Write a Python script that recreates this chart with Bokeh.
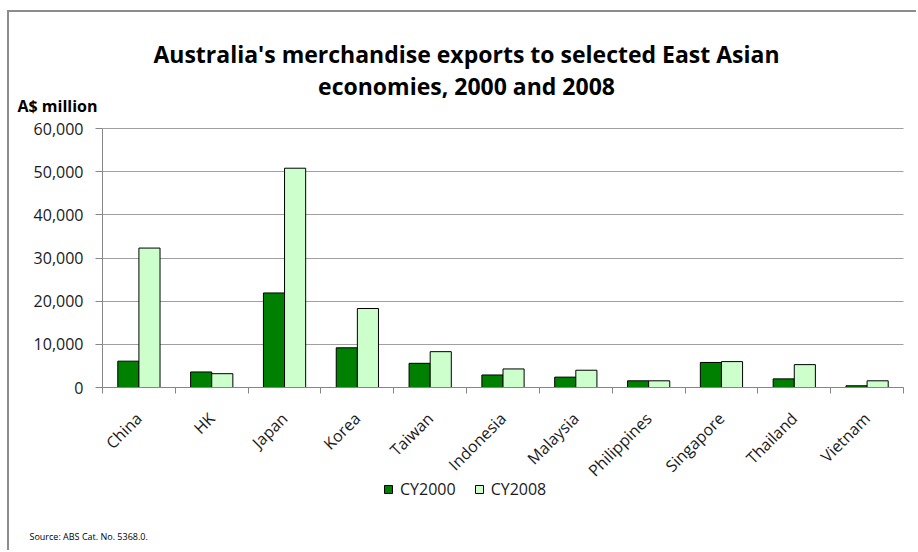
import math
from bokeh.plotting import figure
from bokeh.models import (Range1d, FixedTicker, NumeralTickFormatter, Legend, LegendItem,
                          Label, ColumnDataSource)
from bokeh.transform import dodge
from bokeh.embed import file_html
from bokeh.resources import INLINE

# ---- data ----
economies = ["China", "HK", "Japan", "Korea", "Taiwan", "Indonesia", "Malaysia",
             "Philippines", "Singapore", "Thailand", "Vietnam"]
cy2000 = [6100, 3600, 21900, 9200, 5600, 2900, 2400, 1550, 5800, 2000, 400]
cy2008 = [32300, 3200, 50800, 18300, 8300, 4300, 4000, 1550, 6000, 5300, 1550]
series_names = ["CY2000", "CY2008"]
y_ticks = [0, 10000, 20000, 30000, 40000, 50000, 60000]
title_lines = ["Australia's merchandise exports to selected East Asian",
               "economies, 2000 and 2008"]
y_unit = "A$ million"
source_note = "Source: ABS Cat. No. 5368.0."

FONT = "Open Sans"
DARK = "#008000"
LIGHT = "#ccffcc"
AXIS_GRAY = "#868686"
GRID_GRAY = "#a0a0a0"
TEXT = "#1a1a1a"

W, H = 909, 540
# page = canvas + (9, 12) because of the css margin + border
OX, OY = 9, 12
# where the value area sits on the page
AREA_L, AREA_R, AREA_T, AREA_B = 102, 903, 128, 387

n = len(economies)
centers = [i + 0.5 for i in range(n)]
bounds = list(range(n + 1))

x_per_px = n / (AREA_R - AREA_L)
y_per_px = y_ticks[-1] / (AREA_B - AREA_T)


def px_x(x):
    return (x - AREA_L) * x_per_px


def px_y(y):
    return (AREA_B - y) * y_per_px


src = ColumnDataSource(dict(economy=economies, pos=centers, cy2000=cy2000, cy2008=cy2008))

p = figure(width=W, height=H, output_backend="svg", toolbar_location=None,
           x_range=Range1d(px_x(OX), px_x(OX + W)),
           y_range=Range1d(px_y(OY + H), px_y(OY)),
           min_border=0)
p.margin = (10, 0, 0, 7)
p.styles = {"border-top": "2px solid #8c8c8c", "border-left": "2px solid #8c8c8c"}
p.outline_line_color = None
p.background_fill_color = "white"
p.border_fill_color = "white"

# bars
r1 = p.vbar(x=dodge("pos", -0.145), top="cy2000", width=0.29,
            fill_color=DARK, line_color="black", line_width=1, source=src)
r2 = p.vbar(x=dodge("pos", 0.145), top="cy2008", width=0.29,
            fill_color=LIGHT, line_color="black", line_width=1, source=src)

# y axis
yax = p.yaxis[0]
yax.fixed_location = 0
yax.bounds = (0, y_ticks[-1])
yax.ticker = FixedTicker(ticks=y_ticks)
yax.formatter = NumeralTickFormatter(format="0,0")
yax.major_tick_out = 7
yax.major_tick_in = 0
yax.minor_tick_line_color = None
yax.axis_line_color = AXIS_GRAY
yax.major_tick_line_color = AXIS_GRAY
yax.major_label_standoff = 12
yax.major_label_text_font = FONT
yax.major_label_text_font_size = "16px"
yax.major_label_text_color = TEXT

p.ygrid.ticker = FixedTicker(ticks=y_ticks)
p.ygrid.bounds = (0, y_ticks[-1])
p.ygrid.cross_bounds = (0, n)
p.ygrid.grid_line_color = GRID_GRAY
p.xgrid.grid_line_color = None

# x axis: category labels at centres, ticks at boundaries
xax = p.xaxis[0]
xax.fixed_location = 0
xax.bounds = (0, n)
xax.ticker = FixedTicker(ticks=centers, minor_ticks=bounds)
xax.major_label_overrides = {c: name for c, name in zip(centers, economies)}
xax.major_tick_line_color = None
xax.major_tick_out = 0
xax.major_tick_in = 0
xax.minor_tick_out = 6
xax.minor_tick_in = 0
xax.minor_tick_line_color = AXIS_GRAY
xax.axis_line_color = AXIS_GRAY
xax.major_label_orientation = math.pi / 4
xax.major_label_standoff = 22
xax.major_label_text_font = FONT
xax.major_label_text_font_size = "16px"
xax.major_label_text_color = TEXT

# legend (location is in canvas pixels from the bottom-left)
legend = Legend(items=[LegendItem(label=series_names[0], renderers=[r1]),
                       LegendItem(label=series_names[1], renderers=[r2])],
                orientation="horizontal", location=(383 - OX, OY + H - 500),
                border_line_color=None, background_fill_alpha=0,
                padding=0, margin=0, spacing=18, label_standoff=7,
                glyph_width=10, glyph_height=10,
                label_text_font=FONT, label_text_font_size="16px",
                label_text_color=TEXT)
p.add_layout(legend)

# titles and notes
p.add_layout(Label(x=px_x(466), y=px_y(53), text=title_lines[0], text_align="center",
                   text_baseline="alphabetic", text_font=FONT, text_font_size="23px",
                   text_font_style="bold", text_color="#000000"))
p.add_layout(Label(x=px_x(466), y=px_y(85), text=title_lines[1], text_align="center",
                   text_baseline="alphabetic", text_font=FONT, text_font_size="23px",
                   text_font_style="bold", text_color="#000000"))
p.add_layout(Label(x=px_x(17), y=px_y(105), text=y_unit, text_align="left",
                   text_baseline="alphabetic", text_font=FONT, text_font_size="16px",
                   text_font_style="bold", text_color="#000000"))
p.add_layout(Label(x=px_x(29), y=px_y(536), text=source_note, text_align="left",
                   text_baseline="alphabetic", text_font=FONT, text_font_size="9px",
                   text_color="#000000"))

open("out.html", "w").write(file_html(p, INLINE))
